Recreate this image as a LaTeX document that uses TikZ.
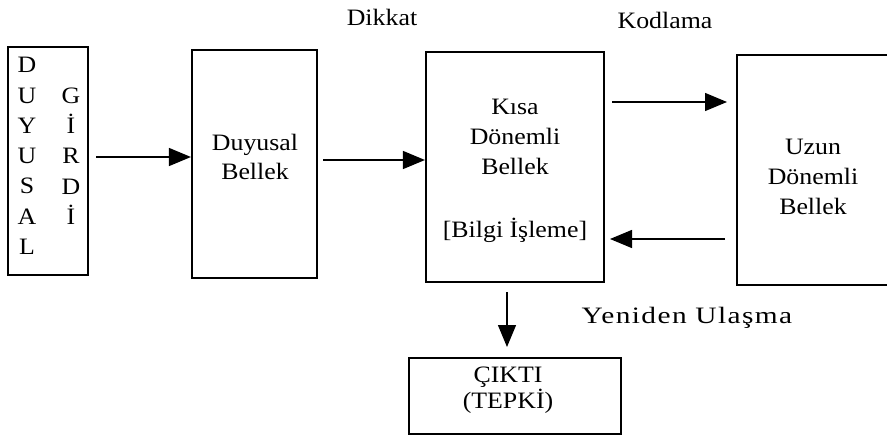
\documentclass[tikz,border=0pt]{standalone}
\usepackage{fontspec}
\setmainfont{Liberation Serif}[FakeStretch=1.1]
\newfontfamily\spacedserif{Liberation Serif}[FakeStretch=1.25, LetterSpace=6]
\usetikzlibrary{arrows.meta}
\begin{document}
\begin{tikzpicture}[x=1pt, y=-1pt,
  box/.style={draw, line width=2.1pt, inner sep=0pt},
  lbl/.style={inner sep=0pt, align=center, font=\fontsize{23.5}{29.6}\selectfont},
  arr/.style={line width=1.3pt, -{Triangle[length=22pt, width=18pt]}}]
\useasboundingbox (0,0) rectangle (887,439);

% boxes
\node[box, minimum width=80pt,  minimum height=228pt] (lb) at (48,161) {};
\node[box, minimum width=125pt, minimum height=228pt] (db) at (254.5,164) {};
\node[box, minimum width=178pt, minimum height=230pt] (kb) at (515,167) {};
\node[box, minimum width=152pt, minimum height=230pt] (ub) at (813,170) {};
\node[box, minimum width=212pt, minimum height=76pt]  (ck) at (515,396) {};

% texts inside the boxes
\node[lbl, font=\fontsize{23.5}{30.3}\selectfont] (lb1) at (27,156) {D\\U\\Y\\U\\S\\A\\L};
\node[lbl, font=\fontsize{23.5}{30.3}\selectfont] (lb2) at (71,156) {G\\İ\\R\\D\\İ};
\node[lbl] (dbt) at (255,157) {Duyusal\\Bellek};
\node[lbl] (kbt) at (515,137) {Kısa\\Dönemli\\Bellek};
\node[lbl] (kbp) at (515,230) {[Bilgi İşleme]};
\node[lbl] (ubt) at (813,177) {Uzun\\Dönemli\\Bellek};
\node[lbl, font=\fontsize{23.5}{26}\selectfont] (ckt) at (508,390) {ÇIKTI\\(TEPKİ)};

% labels
\node[lbl] (dikkat) at (382,17) {Dikkat};
\node[lbl] (kodlama) at (665,20) {Kodlama};
\node[lbl, font=\fontsize{23.5}{29.6}\spacedserif] (yeniden) at (687,318) {Yeniden Ulaşma};

% connectors
\coordinate (p1) at (96,157);
\draw[arr] (p1) -- (p1 -| db.west);
\coordinate (p2) at (323,160);
\draw[arr] (p2) -- (p2 -| kb.west);
\coordinate (p3) at (612,102);
\coordinate (q3) at (727,102);
\draw[arr] (p3) -- (q3);
\coordinate (p4) at (725,239);
\coordinate (q4) at (610,239);
\draw[arr] (p4) -- (q4);
\coordinate (p5) at (507,292);
\coordinate (q5) at (507,347);
\draw[arr] (p5) -- (q5);
\end{tikzpicture}
\end{document}
